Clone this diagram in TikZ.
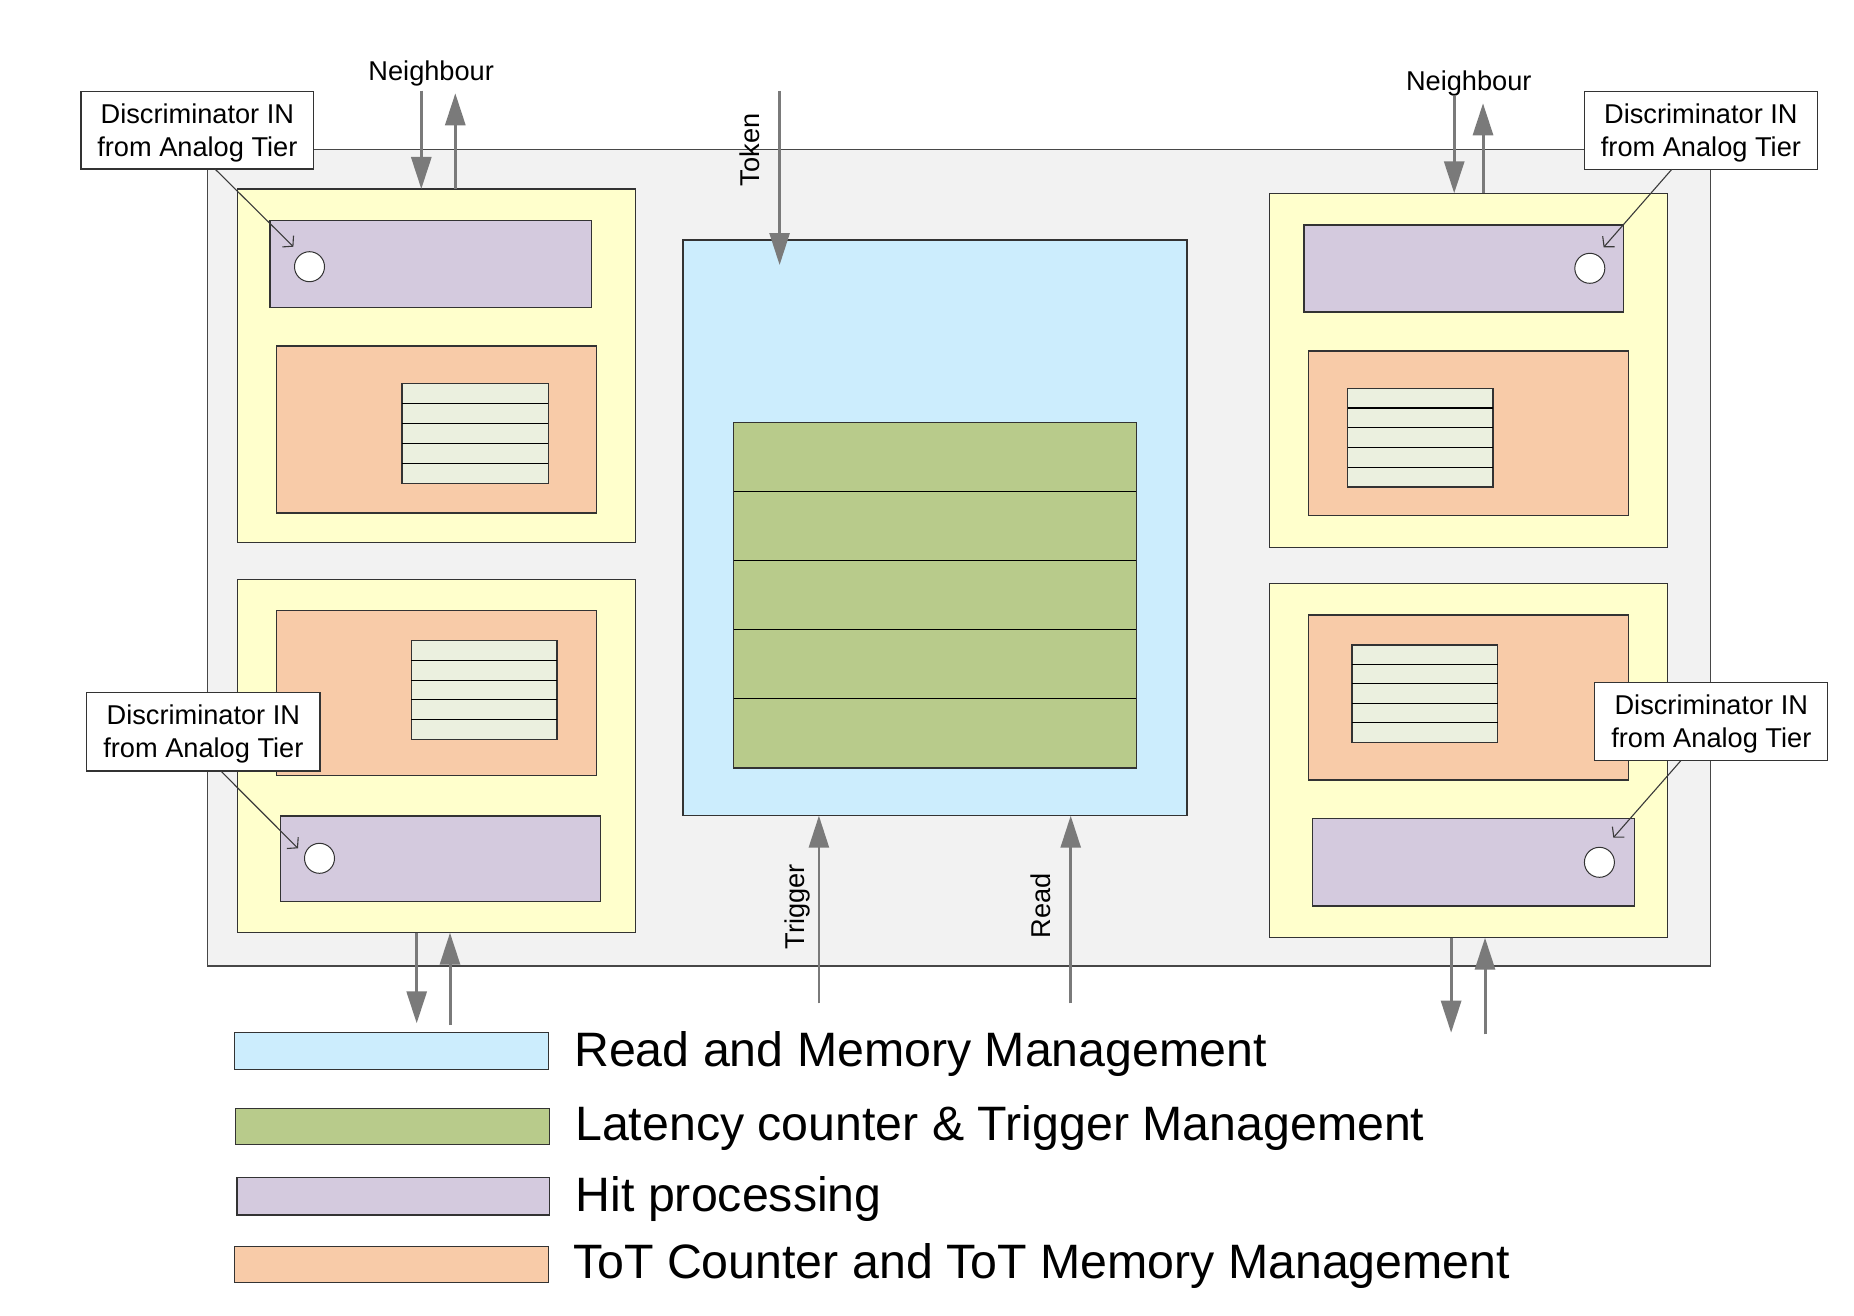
\documentclass[tikz,border=0pt]{standalone}
\usepackage{fontspec}
\setmainfont{Liberation Sans}
\usetikzlibrary{arrows.meta,fit,calc}
\definecolor{chipgray}{HTML}{F2F2F2}
\definecolor{edgecol}{HTML}{333333}
\definecolor{yellowc}{HTML}{FFFFCC}
\definecolor{purplec}{HTML}{D4CADE}
\definecolor{orangec}{HTML}{F8CBA8}
\definecolor{stripec}{HTML}{EBF0DF}
\definecolor{bluec}{HTML}{CCEDFD}
\definecolor{greenc}{HTML}{B8CB8B}
\definecolor{arrowgray}{HTML}{7A7A7A}
\definecolor{calloutc}{HTML}{3A3A3A}
\begin{document}
\begin{tikzpicture}[x=1pt,y=-1pt,
  rbox/.style={draw=edgecol, line width=1.3pt, inner sep=0pt, outer sep=0pt},
  chip/.style={rbox, fill=chipgray, draw=edgecol!90},
  ybox/.style={rbox, fill=yellowc},
  pbox/.style={rbox, fill=purplec},
  obox/.style={rbox, fill=orangec},
  sbox/.style={rbox, fill=stripec},
  bbox/.style={rbox, fill=bluec},
  gbox/.style={rbox, fill=greenc},
  discbox/.style={rbox, fill=white, line width=1.2pt},
  hitdot/.style={circle, draw=edgecol, line width=1pt, fill=white, minimum size=30pt, inner sep=0pt},
  bigarrow/.style={draw=arrowgray, line width=3pt, -{Triangle[length=32pt,width=20pt]}},
  callout/.style={draw=calloutc, line width=1.1pt, -{Straight Barb[length=7pt,width=16pt]}},
  smalltxt/.style={font=\fontsize{27.2}{33}\selectfont, inner sep=0pt, align=center},
  legtxt/.style={font=\fontsize{48.3}{56}\selectfont, inner sep=0pt, anchor=base west},
  rowline/.style={draw=black, line width=1.1pt}
]
\useasboundingbox (0,0) rectangle (1854,1316);
\fill[white] (0,0) rectangle (1854,1316);

% chip outline
\node[chip, fit={(207.3,149.5) (1710.3,966)}] (chip) {};

% central read / memory block
\node[bbox, fit={(682.9,240) (1187.1,815.7)}] (B) {};
\node[gbox, fit={(733.6,422.7) (1136.4,768)}] (G) {};
\foreach \f in {0.2,0.4,0.6,0.8}
  \draw[rowline] ($(G.north west)!\f!(G.south west)$) -- ($(G.north east)!\f!(G.south east)$);

% pixel quadrants
\node[ybox, fit={(237.2,189) (635.2,542.7)}] (Y1) {};
\node[ybox, fit={(237.2,579.3) (635.2,932.7)}] (Y2) {};
\node[ybox, fit={(1269.3,193.3) (1667.2,547.3)}] (Y3) {};
\node[ybox, fit={(1269.3,583.3) (1667.2,937.7)}] (Y4) {};

\node[pbox, fit={(270.1,220.7) (591.6,307.3)}] (P1) {};
\node[pbox, fit={(280.8,816) (600.8,901.7)}] (P2) {};
\node[pbox, fit={(1303.9,225) (1623.7,312)}] (P3) {};
\node[pbox, fit={(1312.8,818.7) (1634.4,906)}] (P4) {};

\node[obox, fit={(276.2,346) (596.2,513)}] (O1) {};
\node[obox, fit={(276.2,610.7) (596.2,775.7)}] (O2) {};
\node[obox, fit={(1308.6,351) (1628.3,515.7)}] (O3) {};
\node[obox, fit={(1308.6,615) (1628.3,780)}] (O4) {};

\node[sbox, fit={(402.1,383.3) (548.3,483.3)}] (S1) {};
\node[sbox, fit={(411.3,640.7) (557.1,739.3)}] (S2) {};
\node[sbox, fit={(1347.5,388.3) (1493.1,487)}] (S3) {};
\node[sbox, fit={(1352.1,645) (1497.7,742.3)}] (S4) {};
\foreach \s in {S1,S2,S3,S4}
  \foreach \f in {0.2,0.4,0.6,0.8}
    \draw[rowline] ($(\s.north west)!\f!(\s.south west)$) -- ($(\s.north east)!\f!(\s.south east)$);

\node[hitdot] (c1) at (309.5,266.7) {};
\node[hitdot] (c2) at (319.5,858.3) {};
\node[hitdot] (c3) at (1589.8,268.3) {};
\node[hitdot] (c4) at (1599.4,862.3) {};

% free ends of connectors
\coordinate (nl1) at (421.3,90.7);
\coordinate (nl2) at (455.3,93.3);
\coordinate (nr1) at (1454.2,96);
\coordinate (nr2) at (1483,103.3);
\coordinate (bl1) at (416.7,1023.3);
\coordinate (bl2) at (450,1025);
\coordinate (br1) at (1451.1,1032.7);
\coordinate (br2) at (1485,1034.3);
\coordinate (tk) at (779.6,91);
\coordinate (tg) at (818.9,1003.3);
\coordinate (rdin) at (1070.7,1003.3);

% signal arrows
\draw[bigarrow] (nl1) -- (nl1 |- Y1.north);
\draw[bigarrow] (nl2 |- Y1.north) -- (nl2);
\draw[bigarrow] (nr1) -- (nr1 |- Y3.north);
\draw[bigarrow] (nr2 |- Y3.north) -- (nr2);
\draw[bigarrow] (bl1 |- Y2.south) -- (bl1);
\draw[bigarrow] (bl2) -- (bl2 |- Y2.south);
\draw[bigarrow] (br1 |- Y4.south) -- (br1);
\draw[bigarrow] (br2) -- (br2 |- Y4.south);
\draw[bigarrow, line width=2.6pt] (tk) -- ([yshift=-25pt]tk |- B.north);
\draw[bigarrow, line width=2.6pt] (tg) -- (tg |- B.south);
\draw[bigarrow, line width=2.6pt] (rdin) -- (rdin |- B.south);

% discriminator callouts
\node[discbox, fit={(81,91.7) (313.7,169)}] (D1) {};
\node[discbox, fit={(86.8,692.7) (319.9,771)}] (D2) {};
\node[discbox, fit={(1584.4,91.7) (1817.4,169.3)}] (D3) {};
\node[discbox, fit={(1594.8,682.3) (1827.8,760.7)}] (D4) {};
\foreach \d in {D1,D2,D3,D4}
  \node[smalltxt] (\d t) at ([yshift=-2.5pt]\d.center) {Discriminator IN\\from Analog Tier};

\coordinate (t1) at (293.4,246.7);
\coordinate (t2) at (298,848.3);
\coordinate (t3) at (1603.6,247.3);
\coordinate (t4) at (1613.3,837.7);
\draw[callout] ([xshift=134pt]D1.south west) -- (t1);
\draw[callout] ([xshift=134pt]D2.south west) -- (t2);
\draw[callout] ([xshift=-145.6pt]D3.south east) -- (t3);
\draw[callout] ([xshift=-147pt]D4.south east) -- (t4);

% labels
\node[smalltxt] (nbl) at (431.2,73.5) {Neighbour};
\node[smalltxt] (nbr) at (1468.8,83.5) {Neighbour};
\node[smalltxt, rotate=90] (tokl) at (749.3,150) {Token};
\node[smalltxt, rotate=90] (trgl) at (797.5,907) {Trigger};
\node[smalltxt, rotate=90] (rdl) at (1040.4,906) {Read};

% legend
\node[bbox, fit={(234.4,1032.3) (548.2,1069.3)}] (L1) {};
\node[gbox, fit={(235.7,1108.3) (549.6,1144.7)}] (L2) {};
\node[pbox, fit={(237,1177.7) (549.6,1215)}] (L3) {};
\node[obox, fit={(234.4,1246.7) (548.2,1282.7)}] (L4) {};
\node[legtxt] (L1t) at (574,1066) {Read and Memory Management};
\node[legtxt] (L2t) at (575,1140.7) {Latency counter \& Trigger Management};
\node[legtxt] (L3t) at (575.5,1211) {Hit processing};
\node[legtxt] (L4t) at (573,1278.3) {ToT Counter and ToT Memory Management};
\end{tikzpicture}
\end{document}
